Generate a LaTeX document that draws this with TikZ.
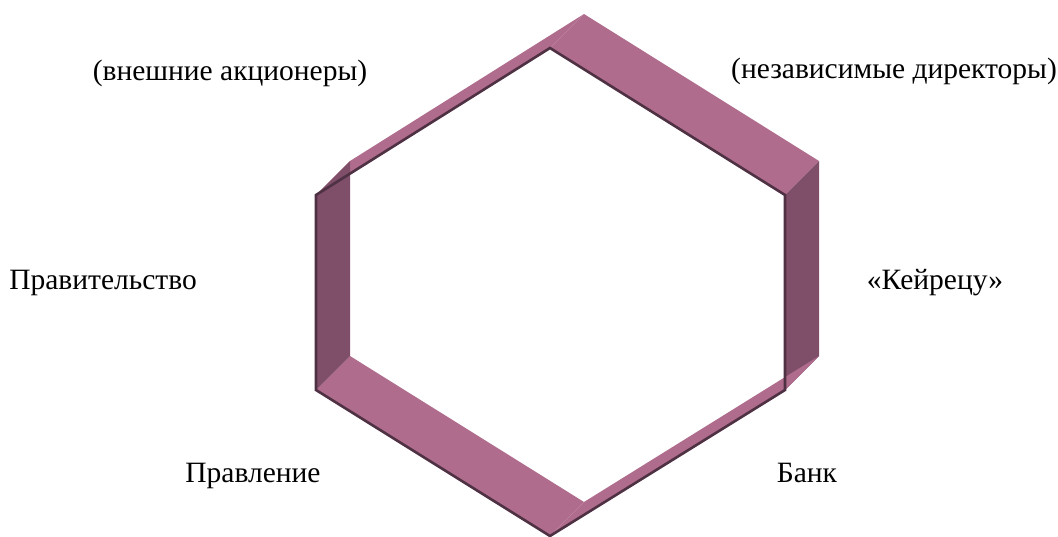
\documentclass[tikz,border=0pt]{standalone}
\usepackage{fontspec}
\setmainfont{Liberation Serif}
\usepackage{tikz}
\usetikzlibrary{calc}
\definecolor{hx-light}{HTML}{B06C8C}
\definecolor{hx-dark}{HTML}{7F4E69}
\definecolor{hx-edge}{HTML}{4F3144}

\begin{document}
\begin{tikzpicture}[
    x=1pt, y=-1pt, % pixel grid of the layout, y pointing down
    font=\fontsize{29.5}{34}\selectfont,
    line join=miter
  ]

  % Styles for the tube faces and the labels
  \tikzset{
    band/.style={fill=hx-light},
    wall/.style={fill=hx-dark},
    rim/.style={draw=hx-edge, line width=2.6pt},
    party/.style={anchor=base, inner sep=0pt, text=black}
  }

  \useasboundingbox (0,0) rectangle (1058,536);

  % Front rim of the hexagonal tube
  \coordinate (top) at (550,48);
  \coordinate (ur)  at (785,195);
  \coordinate (lr)  at (785,390);
  \coordinate (bot) at (550,536);
  \coordinate (ll)  at (316,390);
  \coordinate (ul)  at (316,195);

  % Back rim, shifted up and to the right
  \coordinate (topb) at ($(top)+(34,-34)$);
  \coordinate (urb)  at ($(ur)+(34,-34)$);
  \coordinate (lrb)  at ($(lr)+(34,-34)$);
  \coordinate (botb) at ($(bot)+(34,-34)$);
  \coordinate (llb)  at ($(ll)+(34,-34)$);
  \coordinate (ulb)  at ($(ul)+(34,-34)$);

  % Faces of the tube
  \fill[band] (ul) -- (top) -- (topb) -- (ulb) -- cycle;
  \fill[band] (top) -- (ur) -- (urb) -- (topb) -- cycle;
  \fill[wall] (ur) -- (lr) -- (lrb) -- (urb) -- cycle;
  \fill[band] (lr) -- (bot) -- (botb) -- (lrb) -- cycle;
  \fill[band] (bot) -- (ll) -- (llb) -- (botb) -- cycle;
  \fill[wall] (ll) -- (ul) -- (ulb) -- (llb) -- cycle;

  % Dark front edge
  \draw[rim] (top) -- (ur) -- (lr) -- (bot) -- (ll) -- (ul) -- cycle;

  % Labels round the hexagon
  \node (ext)   [party] at (230,80)  {(внешние акционеры)};
  \node (indep) [party] at (894,78)  {(независимые директоры)};
  \node (gov)   [party] at (103,289) {Правительство};
  \node (keir)  [party] at (935,289) {«Кейрецу»};
  \node (board) [party] at (253,482) {Правление};
  \node (bank)  [party] at (807,482) {Банк};

\end{tikzpicture}
\end{document}
